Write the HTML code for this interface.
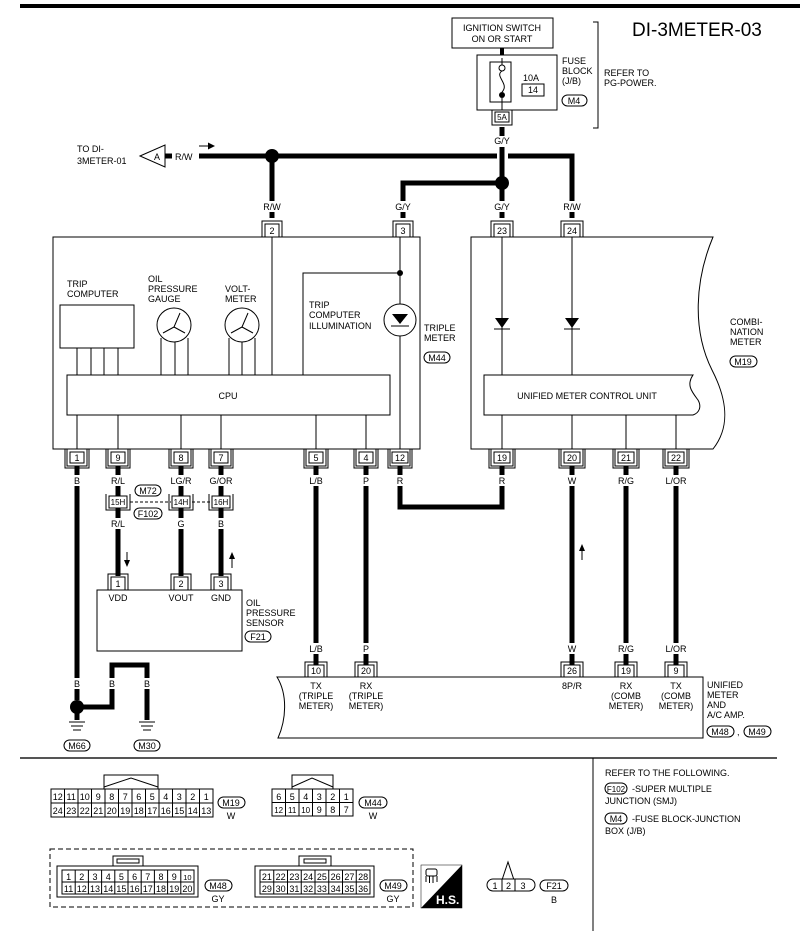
<!DOCTYPE html>
<html><head><meta charset="utf-8"><style>
html,body{margin:0;padding:0;background:#fff}
svg{display:block}
text{font-family:"Liberation Sans",sans-serif;font-size:9px;fill:#000}
.c{text-anchor:middle}
.w{stroke:#000;stroke-width:5;fill:none}
.t{stroke:#000;stroke-width:1;fill:none}
.o{fill:#fff;stroke:#000;stroke-width:1}
</style></head><body>
<svg width="800" height="931" viewBox="0 0 800 931" xmlns="http://www.w3.org/2000/svg">
<rect x="20" y="4" width="780" height="4" fill="#000"/>
<text x="632" y="36" style="font-size:19px">DI-3METER-03</text>

<!-- ignition / fuse -->
<rect x="452" y="18" width="101" height="30" class="o"/>
<text x="502" y="31" class="c">IGNITION SWITCH</text>
<text x="502" y="42" class="c">ON OR START</text>
<line x1="502" y1="48" x2="502" y2="55" stroke="#000" stroke-width="4"/>
<rect x="477" y="55" width="80" height="55" class="o"/>
<rect x="490" y="62" width="21" height="40" class="o"/>
<circle cx="502" cy="68" r="3" class="o"/>
<path d="M502,71 C494,76 510,84 502,92" class="t"/>
<circle cx="502" cy="95" r="3" fill="#000"/>
<line x1="502" y1="58" x2="502" y2="65" class="t"/><line x1="502" y1="98" x2="502" y2="110" class="t"/>
<text x="523" y="81">10A</text>
<rect x="522" y="84" width="22" height="12" class="o"/><text x="533" y="93" class="c">14</text>
<text x="562" y="64">FUSE</text><text x="562" y="74">BLOCK</text><text x="562" y="84">(J/B)</text>
<rect x="562" y="95" width="25" height="11" rx="5.5" class="o"/><text x="574" y="104" class="c">M4</text>
<polyline points="593,22 598,22 598,128 593,128" class="t"/>
<text x="604" y="76">REFER TO</text><text x="604" y="86">PG-POWER.</text>
<rect x="495" y="112" width="14" height="10" class="o"/><text x="502" y="120" class="c" style="font-size:8px">5A</text>
<polyline points="492,110 492,125 512,125 512,110" class="t"/>
<text x="502" y="144" class="c">G/Y</text>

<!-- top wires -->
<text x="77" y="152">TO DI-</text><text x="77" y="164">3METER-01</text>
<polygon points="140,156 165,145 165,167" class="o"/><text x="157" y="160" class="c">A</text>
<line x1="165" y1="156" x2="172" y2="156" stroke="#000" stroke-width="5"/>
<text x="175" y="160">R/W</text>
<line x1="199" y1="146" x2="209" y2="146" class="t"/><polygon points="215,146 208,142.5 208,149.5"/>
<line x1="199" y1="156" x2="497" y2="156" class="w"/>
<polyline points="508,156 572,156 572,218" class="w"/>
<circle cx="272" cy="156" r="7"/>
<line x1="272" y1="156" x2="272" y2="218" class="w"/>
<line x1="502" y1="127" x2="502" y2="136" class="w"/>
<line x1="502" y1="147" x2="502" y2="218" class="w"/>
<circle cx="502" cy="183" r="7"/>
<polyline points="502,183 403,183 403,218" class="w"/>
<rect x="262" y="201" width="20" height="11" fill="#fff"/><text x="272" y="210" class="c">R/W</text>
<rect x="392" y="201" width="22" height="11" fill="#fff"/><text x="403" y="210" class="c">G/Y</text>
<rect x="491" y="201" width="22" height="11" fill="#fff"/><text x="502" y="210" class="c">G/Y</text>
<rect x="562" y="201" width="20" height="11" fill="#fff"/><text x="572" y="210" class="c">R/W</text>

<!-- top pins -->
<g transform="translate(272,237)"><rect x="-7" y="-13" width="14" height="13" class="o"/><text y="-3" class="c">2</text><polyline points="-10,0 -10,-16 10,-16 10,0" class="t"/></g>
<g transform="translate(403,237)"><rect x="-7" y="-13" width="14" height="13" class="o"/><text y="-3" class="c">3</text><polyline points="-10,0 -10,-16 10,-16 10,0" class="t"/></g>
<g transform="translate(502,237)"><rect x="-8" y="-13" width="16" height="13" class="o"/><text y="-3" class="c">23</text><polyline points="-11,0 -11,-16 11,-16 11,0" class="t"/></g>
<g transform="translate(572,237)"><rect x="-8" y="-13" width="16" height="13" class="o"/><text y="-3" class="c">24</text><polyline points="-11,0 -11,-16 11,-16 11,0" class="t"/></g>

<!-- triple meter -->
<rect x="53" y="237" width="367" height="212" class="o"/>
<line x1="272" y1="237" x2="272" y2="375" class="t"/>
<line x1="400" y1="237" x2="400" y2="449" class="t"/>
<text x="67" y="287">TRIP</text><text x="67" y="297">COMPUTER</text>
<rect x="60" y="305" width="74" height="43" class="o"/>
<line x1="77" y1="348" x2="77" y2="375" class="t"/><line x1="91" y1="348" x2="91" y2="375" class="t"/><line x1="104" y1="348" x2="104" y2="375" class="t"/><line x1="118" y1="348" x2="118" y2="375" class="t"/>
<text x="148" y="282">OIL</text><text x="148" y="292">PRESSURE</text><text x="148" y="302">GAUGE</text>
<circle cx="174" cy="325" r="17" class="o"/>
<path d="M174,327 L163,333 M174,327 L185,333 M174,327 L180,313" class="t"/>
<line x1="161" y1="338" x2="161" y2="375" class="t"/><line x1="175" y1="342" x2="175" y2="375" class="t"/><line x1="188" y1="338" x2="188" y2="375" class="t"/>
<text x="225" y="292">VOLT-</text><text x="225" y="302">METER</text>
<circle cx="242" cy="325" r="17" class="o"/>
<path d="M242,327 L231,333 M242,327 L253,333 M242,327 L248,313" class="t"/>
<line x1="229" y1="338" x2="229" y2="375" class="t"/><line x1="242" y1="342" x2="242" y2="375" class="t"/><line x1="255" y1="338" x2="255" y2="375" class="t"/>
<polyline points="303,375 303,273 400,273" class="t"/><circle cx="400" cy="273" r="3"/>
<text x="309" y="308">TRIP</text><text x="309" y="318">COMPUTER</text><text x="309" y="329">ILLUMINATION</text>
<circle cx="400" cy="320" r="16" class="o"/>
<polygon points="392,314 408,314 400,324"/><line x1="391" y1="326" x2="409" y2="326" class="t"/>
<rect x="67" y="375" width="323" height="40" class="o"/><text x="228" y="399" class="c">CPU</text>
<line x1="77" y1="415" x2="77" y2="449" class="t"/><line x1="118" y1="415" x2="118" y2="449" class="t"/><line x1="181" y1="415" x2="181" y2="449" class="t"/><line x1="221" y1="415" x2="221" y2="449" class="t"/><line x1="316" y1="415" x2="316" y2="449" class="t"/><line x1="366" y1="415" x2="366" y2="449" class="t"/>
<text x="424" y="331">TRIPLE</text><text x="424" y="341">METER</text>
<rect x="424" y="352" width="26" height="11" rx="5.5" class="o"/><text x="437" y="361" class="c">M44</text>

<!-- combination meter -->
<path d="M471,237 H713 C695,280 692,330 712,370 C730,405 728,430 713,449 H471 Z" class="o"/>
<line x1="502" y1="237" x2="502" y2="375" class="t"/><line x1="572" y1="237" x2="572" y2="375" class="t"/>
<polygon points="495,318 509,318 502,328"/><line x1="494" y1="329" x2="510" y2="329" class="t"/>
<polygon points="565,318 579,318 572,328"/><line x1="564" y1="329" x2="580" y2="329" class="t"/>
<path d="M484,375 H693 C686,385 692,392 698,400 C702,407 699,413 693,415 H484 Z" class="o"/>
<text x="587" y="399" class="c">UNIFIED METER CONTROL UNIT</text>
<line x1="502" y1="415" x2="502" y2="449" class="t"/><line x1="572" y1="415" x2="572" y2="449" class="t"/><line x1="626" y1="415" x2="626" y2="449" class="t"/><line x1="676" y1="415" x2="676" y2="449" class="t"/>
<text x="730" y="325">COMBI-</text><text x="730" y="335">NATION</text><text x="730" y="345">METER</text>
<rect x="730" y="356" width="27" height="11" rx="5.5" class="o"/><text x="743" y="365" class="c">M19</text>

<!-- bottom wires -->
<line x1="77" y1="466" x2="77" y2="700" class="w"/>
<circle cx="77" cy="707" r="7"/>
<line x1="77" y1="712" x2="77" y2="720" class="w"/>
<polyline points="77,707 112,707 112,665 147,665 147,720" class="w"/>
<line x1="69" y1="722" x2="85" y2="722" class="t"/><line x1="71" y1="726" x2="83" y2="726" class="t"/><line x1="73" y1="730" x2="81" y2="730" class="t"/>
<line x1="139" y1="722" x2="155" y2="722" class="t"/><line x1="141" y1="726" x2="153" y2="726" class="t"/><line x1="143" y1="730" x2="151" y2="730" class="t"/>
<rect x="64" y="740" width="26" height="11" rx="5.5" class="o"/><text x="77" y="749" class="c">M66</text>
<rect x="134" y="740" width="26" height="11" rx="5.5" class="o"/><text x="147" y="749" class="c">M30</text>

<line x1="118" y1="466" x2="118" y2="576" class="w"/>
<line x1="181" y1="466" x2="181" y2="576" class="w"/>
<line x1="221" y1="466" x2="221" y2="576" class="w"/>
<line x1="316" y1="466" x2="316" y2="665" class="w"/>
<line x1="366" y1="466" x2="366" y2="665" class="w"/>
<polyline points="400,466 400,507 502,507 502,466" class="w"/>
<line x1="572" y1="466" x2="572" y2="665" class="w"/>
<line x1="626" y1="466" x2="626" y2="665" class="w"/>
<line x1="676" y1="466" x2="676" y2="665" class="w"/>

<!-- wire labels -->
<g>
<rect x="70" y="475" width="14" height="11" fill="#fff"/><text x="77" y="484" class="c">B</text>
<rect x="108" y="475" width="20" height="11" fill="#fff"/><text x="118" y="484" class="c">R/L</text>
<rect x="168" y="475" width="26" height="11" fill="#fff"/><text x="181" y="484" class="c">LG/R</text>
<rect x="207" y="475" width="28" height="11" fill="#fff"/><text x="221" y="484" class="c">G/OR</text>
<rect x="305" y="475" width="22" height="11" fill="#fff"/><text x="316" y="484" class="c">L/B</text>
<rect x="359" y="475" width="14" height="11" fill="#fff"/><text x="366" y="484" class="c">P</text>
<rect x="393" y="475" width="14" height="11" fill="#fff"/><text x="400" y="484" class="c">R</text>
<rect x="495" y="475" width="14" height="11" fill="#fff"/><text x="502" y="484" class="c">R</text>
<rect x="565" y="475" width="14" height="11" fill="#fff"/><text x="572" y="484" class="c">W</text>
<rect x="614" y="475" width="24" height="11" fill="#fff"/><text x="626" y="484" class="c">R/G</text>
<rect x="662" y="475" width="28" height="11" fill="#fff"/><text x="676" y="484" class="c">L/OR</text>
<rect x="108" y="518" width="20" height="11" fill="#fff"/><text x="118" y="527" class="c">R/L</text>
<rect x="174" y="518" width="14" height="11" fill="#fff"/><text x="181" y="527" class="c">G</text>
<rect x="214" y="518" width="14" height="11" fill="#fff"/><text x="221" y="527" class="c">B</text>
<rect x="70" y="678" width="14" height="11" fill="#fff"/><text x="77" y="687" class="c">B</text>
<rect x="105" y="678" width="14" height="11" fill="#fff"/><text x="112" y="687" class="c">B</text>
<rect x="140" y="678" width="14" height="11" fill="#fff"/><text x="147" y="687" class="c">B</text>
<rect x="305" y="643" width="22" height="11" fill="#fff"/><text x="316" y="652" class="c">L/B</text>
<rect x="359" y="643" width="14" height="11" fill="#fff"/><text x="366" y="652" class="c">P</text>
<rect x="565" y="643" width="14" height="11" fill="#fff"/><text x="572" y="652" class="c">W</text>
<rect x="614" y="643" width="24" height="11" fill="#fff"/><text x="626" y="652" class="c">R/G</text>
<rect x="662" y="643" width="28" height="11" fill="#fff"/><text x="676" y="652" class="c">L/OR</text>
</g>

<!-- bottom pins of meters -->
<g transform="translate(77,449)"><rect x="-7" y="3" width="14" height="11" class="o"/><text y="12" class="c">1</text><polyline points="-10,0 -10,17 10,17 10,0" class="t"/><polyline points="-12,0 -12,19 12,19 12,0" class="t"/></g>
<g transform="translate(118,449)"><rect x="-7" y="3" width="14" height="11" class="o"/><text y="12" class="c">9</text><polyline points="-10,0 -10,17 10,17 10,0" class="t"/><polyline points="-12,0 -12,19 12,19 12,0" class="t"/></g>
<g transform="translate(181,449)"><rect x="-7" y="3" width="14" height="11" class="o"/><text y="12" class="c">8</text><polyline points="-10,0 -10,17 10,17 10,0" class="t"/><polyline points="-12,0 -12,19 12,19 12,0" class="t"/></g>
<g transform="translate(221,449)"><rect x="-7" y="3" width="14" height="11" class="o"/><text y="12" class="c">7</text><polyline points="-10,0 -10,17 10,17 10,0" class="t"/><polyline points="-12,0 -12,19 12,19 12,0" class="t"/></g>
<g transform="translate(316,449)"><rect x="-7" y="3" width="14" height="11" class="o"/><text y="12" class="c">5</text><polyline points="-10,0 -10,17 10,17 10,0" class="t"/><polyline points="-12,0 -12,19 12,19 12,0" class="t"/></g>
<g transform="translate(366,449)"><rect x="-7" y="3" width="14" height="11" class="o"/><text y="12" class="c">4</text><polyline points="-10,0 -10,17 10,17 10,0" class="t"/><polyline points="-12,0 -12,19 12,19 12,0" class="t"/></g>
<g transform="translate(400,449)"><rect x="-8" y="3" width="16" height="11" class="o"/><text y="12" class="c">12</text><polyline points="-10,0 -10,17 10,17 10,0" class="t"/><polyline points="-12,0 -12,19 12,19 12,0" class="t"/></g>
<g transform="translate(502,449)"><rect x="-8" y="3" width="16" height="11" class="o"/><text y="12" class="c">19</text><polyline points="-11,0 -11,17 11,17 11,0" class="t"/><polyline points="-13,0 -13,19 13,19 13,0" class="t"/></g>
<g transform="translate(572,449)"><rect x="-8" y="3" width="16" height="11" class="o"/><text y="12" class="c">20</text><polyline points="-11,0 -11,17 11,17 11,0" class="t"/><polyline points="-13,0 -13,19 13,19 13,0" class="t"/></g>
<g transform="translate(626,449)"><rect x="-8" y="3" width="16" height="11" class="o"/><text y="12" class="c">21</text><polyline points="-11,0 -11,17 11,17 11,0" class="t"/><polyline points="-13,0 -13,19 13,19 13,0" class="t"/></g>
<g transform="translate(676,449)"><rect x="-8" y="3" width="16" height="11" class="o"/><text y="12" class="c">22</text><polyline points="-11,0 -11,17 11,17 11,0" class="t"/><polyline points="-13,0 -13,19 13,19 13,0" class="t"/></g>

<!-- junction connectors -->
<line x1="130" y1="502" x2="171" y2="502" stroke="#000" stroke-dasharray="3,2"/>
<line x1="192" y1="502" x2="210" y2="502" stroke="#000" stroke-dasharray="3,2"/>
<g transform="translate(118,494)"><rect x="-9" y="2" width="18" height="12" class="o"/><text y="11" class="c" style="font-size:8px">15H</text><polyline points="-12,0 -12,16 12,16 12,0" class="t"/></g>
<g transform="translate(181,494)"><rect x="-9" y="2" width="18" height="12" class="o"/><text y="11" class="c" style="font-size:8px">14H</text><polyline points="-12,0 -12,16 12,16 12,0" class="t"/></g>
<g transform="translate(221,494)"><rect x="-9" y="2" width="18" height="12" class="o"/><text y="11" class="c" style="font-size:8px">16H</text><polyline points="-12,0 -12,16 12,16 12,0" class="t"/></g>
<rect x="135" y="485" width="26" height="11" rx="5.5" class="o"/><text x="148" y="494" class="c">M72</text>
<rect x="134" y="508" width="28" height="11" rx="5.5" class="o"/><text x="148" y="517" class="c">F102</text>
<line x1="127" y1="552" x2="127" y2="562" class="t"/><polygon points="127,567 124,560 130,560"/>
<line x1="232" y1="568" x2="232" y2="558" class="t"/><polygon points="232,552 229,559 235,559"/>
<line x1="582" y1="560" x2="582" y2="550" class="t"/><polygon points="582,544 579,551 585,551"/>

<!-- sensor -->
<g transform="translate(118,590)"><rect x="-7" y="-13" width="14" height="13" class="o"/><text y="-3" class="c">1</text><polyline points="-10,0 -10,-16 10,-16 10,0" class="t"/></g>
<g transform="translate(181,590)"><rect x="-7" y="-13" width="14" height="13" class="o"/><text y="-3" class="c">2</text><polyline points="-10,0 -10,-16 10,-16 10,0" class="t"/></g>
<g transform="translate(221,590)"><rect x="-7" y="-13" width="14" height="13" class="o"/><text y="-3" class="c">3</text><polyline points="-10,0 -10,-16 10,-16 10,0" class="t"/></g>
<rect x="97" y="590" width="145" height="61" class="o"/>
<text x="118" y="601" class="c">VDD</text><text x="181" y="601" class="c">VOUT</text><text x="221" y="601" class="c">GND</text>
<text x="246" y="606">OIL</text><text x="246" y="616">PRESSURE</text><text x="246" y="626">SENSOR</text>
<rect x="245" y="631" width="26" height="11" rx="5.5" class="o"/><text x="258" y="640" class="c">F21</text>

<!-- unified amp -->
<path d="M703,677 H277 C288,695 286,720 278,738 H703 Z" class="o"/>
<g transform="translate(316,677)"><rect x="-8" y="-12" width="16" height="12" class="o"/><text y="-3" class="c">10</text><polyline points="-11,0 -11,-15 11,-15 11,0" class="t"/></g>
<g transform="translate(366,677)"><rect x="-8" y="-12" width="16" height="12" class="o"/><text y="-3" class="c">20</text><polyline points="-11,0 -11,-15 11,-15 11,0" class="t"/></g>
<g transform="translate(572,677)"><rect x="-8" y="-12" width="16" height="12" class="o"/><text y="-3" class="c">26</text><polyline points="-11,0 -11,-15 11,-15 11,0" class="t"/></g>
<g transform="translate(626,677)"><rect x="-8" y="-12" width="16" height="12" class="o"/><text y="-3" class="c">19</text><polyline points="-11,0 -11,-15 11,-15 11,0" class="t"/></g>
<g transform="translate(676,677)"><rect x="-8" y="-12" width="16" height="12" class="o"/><text y="-3" class="c">9</text><polyline points="-11,0 -11,-15 11,-15 11,0" class="t"/></g>
<text x="316" y="689" class="c">TX</text><text x="316" y="699" class="c">(TRIPLE</text><text x="316" y="709" class="c">METER)</text>
<text x="366" y="689" class="c">RX</text><text x="366" y="699" class="c">(TRIPLE</text><text x="366" y="709" class="c">METER)</text>
<text x="572" y="689" class="c">8P/R</text>
<text x="626" y="689" class="c">RX</text><text x="626" y="699" class="c">(COMB</text><text x="626" y="709" class="c">METER)</text>
<text x="676" y="689" class="c">TX</text><text x="676" y="699" class="c">(COMB</text><text x="676" y="709" class="c">METER)</text>
<text x="707" y="688">UNIFIED</text><text x="707" y="698">METER</text><text x="707" y="708">AND</text><text x="707" y="718">A/C AMP.</text>
<rect x="707" y="726" width="27" height="11" rx="5.5" class="o"/><text x="720" y="735" class="c">M48</text>
<text x="737" y="735">,</text>
<rect x="744" y="726" width="27" height="11" rx="5.5" class="o"/><text x="757" y="735" class="c">M49</text>

<!-- separator -->
<line x1="20" y1="758" x2="777" y2="758" stroke="#555" stroke-width="2"/>
<line x1="593" y1="758" x2="593" y2="931" class="t"/>
<text x="605" y="776">REFER TO THE FOLLOWING.</text>
<rect x="605" y="783" width="22" height="11" rx="5.5" class="o"/><text x="616" y="792" class="c" style="font-size:8px">F102</text>
<text x="632" y="792">-SUPER MULTIPLE</text>
<text x="605" y="804">JUNCTION (SMJ)</text>
<rect x="605" y="813" width="22" height="11" rx="5.5" class="o"/><text x="616" y="822" class="c">M4</text>
<text x="632" y="822">-FUSE BLOCK-JUNCTION</text>
<text x="605" y="834">BOX (J/B)</text>

<!-- M19 connector -->
<g style="font-size:8px">
<polyline points="104,789 104,775 158,775 158,789" class="t"/><polyline points="104,787 131,778 158,787" class="t"/>
<rect x="51" y="789" width="162" height="28" class="o"/><line x1="51" y1="803" x2="213" y2="803" class="t"/>
<path d="M64.5,789V817M78,789V817M91.5,789V817M105,789V817M118.5,789V817M132,789V817M145.5,789V817M159,789V817M172.5,789V817M186,789V817M199.5,789V817" class="t"/>
<text x="57.7" y="800" class="c">12</text><text x="71.2" y="800" class="c">11</text><text x="84.7" y="800" class="c">10</text><text x="98.2" y="800" class="c">9</text><text x="111.7" y="800" class="c">8</text><text x="125.2" y="800" class="c">7</text><text x="138.7" y="800" class="c">6</text><text x="152.2" y="800" class="c">5</text><text x="165.7" y="800" class="c">4</text><text x="179.2" y="800" class="c">3</text><text x="192.7" y="800" class="c">2</text><text x="206.2" y="800" class="c">1</text>
<text x="57.7" y="814" class="c">24</text><text x="71.2" y="814" class="c">23</text><text x="84.7" y="814" class="c">22</text><text x="98.2" y="814" class="c">21</text><text x="111.7" y="814" class="c">20</text><text x="125.2" y="814" class="c">19</text><text x="138.7" y="814" class="c">18</text><text x="152.2" y="814" class="c">17</text><text x="165.7" y="814" class="c">16</text><text x="179.2" y="814" class="c">15</text><text x="192.7" y="814" class="c">14</text><text x="206.2" y="814" class="c">13</text>
</g>
<rect x="218" y="797" width="27" height="11" rx="5.5" class="o"/><text x="231" y="806" class="c">M19</text><text x="231" y="819" class="c">W</text>

<!-- M44 -->
<polyline points="292,789 292,775 333,775 333,789" class="t"/><polyline points="292,787 312,778 333,787" class="t"/>
<rect x="272" y="789" width="81" height="27" class="o"/><line x1="272" y1="802.5" x2="353" y2="802.5" class="t"/>
<path d="M285.5,789V816M299,789V816M312.5,789V816M326,789V816M339.5,789V816" class="t"/>
<g style="font-size:9px"><text x="278.7" y="800" class="c">6</text><text x="292.2" y="800" class="c">5</text><text x="305.7" y="800" class="c">4</text><text x="319.2" y="800" class="c">3</text><text x="332.7" y="800" class="c">2</text><text x="346.2" y="800" class="c">1</text>
<text x="278.7" y="813" class="c" style="font-size:8px">12</text><text x="292.2" y="813" class="c" style="font-size:8px">11</text><text x="305.7" y="813" class="c" style="font-size:8px">10</text><text x="319.2" y="813" class="c">9</text><text x="332.7" y="813" class="c">8</text><text x="346.2" y="813" class="c">7</text></g>
<rect x="359" y="797" width="28" height="11" rx="5.5" class="o"/><text x="373" y="806" class="c">M44</text><text x="373" y="819" class="c">W</text>

<!-- dashed box M48/M49 -->
<rect x="50" y="849" width="363" height="58" fill="none" stroke="#000" stroke-dasharray="5,3"/>
<rect x="57" y="866" width="141" height="31" class="o"/>
<rect x="113" y="856" width="30" height="10" class="o"/><rect x="117" y="859" width="22" height="4" class="o"/>
<rect x="62" y="870" width="132" height="24" class="o"/><line x1="62" y1="882" x2="194" y2="882" class="t"/>
<path d="M75.2,870V894M88.4,870V894M101.6,870V894M114.8,870V894M128,870V894M141.2,870V894M154.4,870V894M167.6,870V894M180.8,870V894" class="t"/>
<g style="font-size:8.5px">
<text x="68.6" y="880" class="c">1</text><text x="81.8" y="880" class="c">2</text><text x="95" y="880" class="c">3</text><text x="108.2" y="880" class="c">4</text><text x="121.4" y="880" class="c">5</text><text x="134.6" y="880" class="c">6</text><text x="147.8" y="880" class="c">7</text><text x="161" y="880" class="c">8</text><text x="174.2" y="880" class="c">9</text><text x="187.4" y="880" class="c" style="font-size:7.5px">10</text>
</g><g style="font-size:7.5px">
<text x="68.6" y="892" class="c">11</text><text x="81.8" y="892" class="c">12</text><text x="95" y="892" class="c">13</text><text x="108.2" y="892" class="c">14</text><text x="121.4" y="892" class="c">15</text><text x="134.6" y="892" class="c">16</text><text x="147.8" y="892" class="c">17</text><text x="161" y="892" class="c">18</text><text x="174.2" y="892" class="c">19</text><text x="187.4" y="892" class="c">20</text>
</g>
<rect x="205" y="880" width="27" height="11" rx="5.5" class="o"/><text x="218" y="889" class="c">M48</text><text x="218" y="902" class="c">GY</text>

<rect x="255" y="866" width="119" height="31" class="o"/>
<rect x="299" y="856" width="32" height="10" class="o"/><rect x="304" y="859" width="22" height="4" class="o"/>
<rect x="260" y="870" width="110" height="24" class="o"/><line x1="260" y1="882" x2="370" y2="882" class="t"/>
<path d="M273.75,870V894M287.5,870V894M301.25,870V894M315,870V894M328.75,870V894M342.5,870V894M356.25,870V894" class="t"/>
<g style="font-size:8px">
<text x="266.9" y="880" class="c">21</text><text x="280.6" y="880" class="c">22</text><text x="294.4" y="880" class="c">23</text><text x="308.1" y="880" class="c">24</text><text x="321.9" y="880" class="c">25</text><text x="335.6" y="880" class="c">26</text><text x="349.4" y="880" class="c">27</text><text x="363.1" y="880" class="c">28</text>
<text x="266.9" y="892" class="c">29</text><text x="280.6" y="892" class="c">30</text><text x="294.4" y="892" class="c">31</text><text x="308.1" y="892" class="c">32</text><text x="321.9" y="892" class="c">33</text><text x="335.6" y="892" class="c">34</text><text x="349.4" y="892" class="c">35</text><text x="363.1" y="892" class="c">36</text>
</g>
<rect x="380" y="880" width="27" height="11" rx="5.5" class="o"/><text x="393" y="889" class="c">M49</text><text x="393" y="902" class="c">GY</text>

<!-- HS icon -->
<rect x="421" y="865" width="41" height="43" fill="#fff" stroke="#000" stroke-width="0.5"/>
<polygon points="462,865 462,908 421,908"/>
<rect x="426" y="869" width="11" height="7" rx="2" class="o"/><path d="M426,876 v6 M429.5,876 v7 M433,876 v7 M437,876 v6" class="t"/>
<text x="436" y="904" style="font-size:12px;font-weight:bold;fill:#fff">H.S.</text>

<!-- F21 -->
<polyline points="502,880 508,862 514,880" class="t"/>
<rect x="487" y="879" width="48" height="12" rx="6" class="o"/>
<line x1="502" y1="879" x2="502" y2="891" class="t"/><line x1="515" y1="879" x2="515" y2="891" class="t"/>
<text x="495" y="889" class="c">1</text><text x="508.5" y="889" class="c">2</text><text x="523" y="889" class="c">3</text>
<rect x="540" y="880" width="28" height="11" rx="5.5" class="o"/><text x="554" y="889" class="c">F21</text><text x="554" y="903" class="c">B</text>
</svg>
</body></html>
